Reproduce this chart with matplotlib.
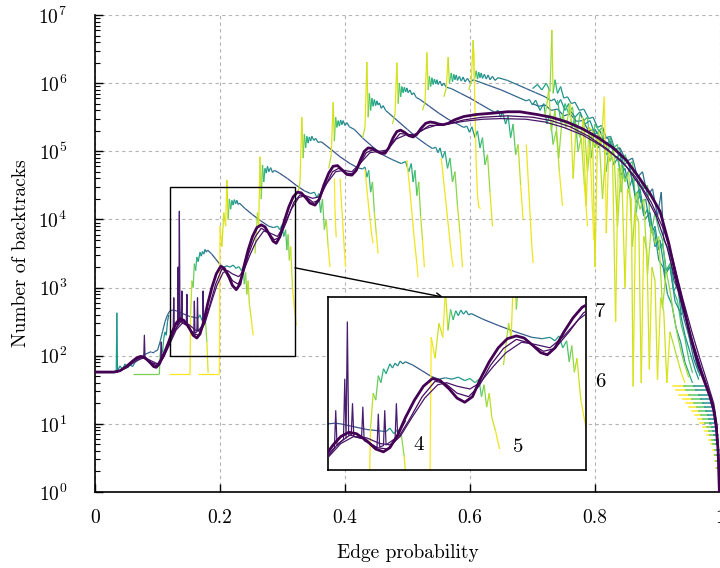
import numpy as np
import matplotlib
matplotlib.use("Agg")
import matplotlib.pyplot as plt
from matplotlib.collections import LineCollection
from matplotlib.patches import Rectangle

plt.rcParams["font.family"] = "serif"
plt.rcParams["font.serif"] = ["cmr10", "DejaVu Serif"]
plt.rcParams["mathtext.fontset"] = "cm"
plt.rcParams["axes.formatter.use_mathtext"] = True

# ---------------------------------------------------------------------------
# Data: edge probability p and log10(number of backtracks)
# ---------------------------------------------------------------------------
mean_p = [0.000, 0.030, 0.040, 0.050, 0.060, 0.067, 0.073, 0.080, 0.088, 0.094, 0.098, 0.103,
          0.110, 0.117, 0.124, 0.130, 0.136, 0.142, 0.150, 0.157, 0.163, 0.168, 0.174, 0.180,
          0.187, 0.194, 0.201, 0.207, 0.214, 0.220, 0.226, 0.232, 0.238, 0.245, 0.252, 0.259,
          0.266, 0.272, 0.279, 0.285, 0.290, 0.296, 0.303, 0.310, 0.317, 0.324, 0.330, 0.337,
          0.344, 0.352, 0.359, 0.366, 0.374, 0.381, 0.388, 0.395, 0.403, 0.411, 0.418, 0.425,
          0.431, 0.437, 0.444, 0.451, 0.458, 0.464, 0.470, 0.477, 0.483, 0.489, 0.495, 0.502,
          0.509, 0.515, 0.522, 0.529, 0.536, 0.543, 0.550, 0.557, 0.565, 0.575, 0.590, 0.610,
          0.637, 0.660, 0.680, 0.707, 0.730, 0.755, 0.780, 0.805, 0.829, 0.850, 0.870, 0.888,
          0.904, 0.918, 0.930, 0.942, 0.955, 0.966, 0.976, 0.984, 0.990, 0.994, 0.997, 0.999]
mean_log = [1.76, 1.76, 1.78, 1.84, 1.92, 1.97, 1.99, 1.97, 1.90, 1.84, 1.83, 1.88,
            2.02, 2.18, 2.36, 2.48, 2.54, 2.52, 2.42, 2.30, 2.26, 2.32, 2.50, 2.75,
            3.00, 3.20, 3.31, 3.28, 3.16, 3.03, 2.97, 3.05, 3.30, 3.55, 3.75, 3.88,
            3.92, 3.89, 3.78, 3.68, 3.65, 3.75, 3.98, 4.18, 4.33, 4.40, 4.39, 4.32,
            4.24, 4.21, 4.30, 4.50, 4.68, 4.78, 4.79, 4.73, 4.66, 4.65, 4.72, 4.88,
            5.00, 5.05, 5.04, 5.00, 4.97, 4.97, 5.05, 5.20, 5.29, 5.31, 5.28, 5.23,
            5.21, 5.25, 5.34, 5.41, 5.43, 5.42, 5.40, 5.39, 5.41, 5.46, 5.51, 5.54,
            5.56, 5.58, 5.58, 5.54, 5.50, 5.43, 5.33, 5.20, 5.05, 4.87, 4.62, 4.38,
            4.12, 3.65, 3.15, 2.70, 2.20, 1.85, 1.60, 1.40, 1.20, 0.95, 0.60, 0.00]

thin1_p = [0.000, 0.035, 0.050, 0.065, 0.078, 0.090, 0.100, 0.110, 0.120, 0.130, 0.140, 0.150,
           0.160, 0.168, 0.176, 0.185, 0.195, 0.205, 0.212, 0.220, 0.230, 0.238, 0.248, 0.258,
           0.270, 0.280, 0.292, 0.302, 0.314, 0.326, 0.336, 0.348, 0.358, 0.370, 0.385, 0.398,
           0.411, 0.424, 0.440, 0.455, 0.468, 0.482, 0.497, 0.512, 0.528, 0.545, 0.565, 0.590,
           0.620, 0.650, 0.690, 0.720, 0.750, 0.780, 0.810, 0.840, 0.865, 0.890, 0.910, 0.925,
           0.940, 0.955, 0.968, 0.980, 0.990, 0.995, 0.998, 0.999]
thin1_log = [1.76, 1.76, 1.82, 1.92, 1.97, 1.90, 1.87, 1.98, 2.18, 2.38, 2.48, 2.46,
             2.38, 2.36, 2.48, 2.75, 3.03, 3.22, 3.25, 3.20, 3.16, 3.25, 3.48, 3.68,
             3.83, 3.80, 3.75, 3.90, 4.15, 4.32, 4.35, 4.31, 4.33, 4.52, 4.70, 4.72,
             4.70, 4.82, 4.98, 5.00, 5.02, 5.18, 5.24, 5.25, 5.33, 5.38, 5.40, 5.44,
             5.47, 5.48, 5.47, 5.43, 5.35, 5.24, 5.08, 4.88, 4.62, 4.25, 3.85, 3.40,
             2.85, 2.35, 1.95, 1.60, 1.30, 1.00, 0.50, 0.00]

thin2_p = [0.000, 0.035, 0.050, 0.063, 0.075, 0.088, 0.098, 0.108, 0.118, 0.128, 0.137, 0.147,
           0.158, 0.166, 0.174, 0.183, 0.193, 0.203, 0.211, 0.220, 0.229, 0.237, 0.246, 0.256,
           0.266, 0.276, 0.287, 0.296, 0.307, 0.318, 0.328, 0.338, 0.349, 0.358, 0.368, 0.380,
           0.390, 0.402, 0.412, 0.422, 0.434, 0.444, 0.456, 0.466, 0.478, 0.488, 0.500, 0.510,
           0.522, 0.535, 0.550, 0.565, 0.590, 0.620, 0.660, 0.700, 0.730, 0.760, 0.790, 0.820,
           0.850, 0.875, 0.898, 0.915, 0.930, 0.945, 0.960, 0.972, 0.982, 0.990, 0.995, 0.998,
           0.999]
thin2_log = [1.76, 1.76, 1.83, 1.93, 1.98, 1.91, 1.85, 1.95, 2.15, 2.38, 2.50, 2.45,
             2.32, 2.30, 2.45, 2.72, 3.05, 3.27, 3.24, 3.10, 3.05, 3.20, 3.50, 3.74,
             3.87, 3.82, 3.70, 3.74, 3.98, 4.25, 4.36, 4.33, 4.25, 4.28, 4.48, 4.70,
             4.75, 4.68, 4.67, 4.78, 4.98, 5.02, 4.98, 5.00, 5.15, 5.26, 5.25, 5.23,
             5.30, 5.38, 5.38, 5.40, 5.46, 5.50, 5.52, 5.50, 5.45, 5.36, 5.22, 5.03,
             4.78, 4.45, 4.05, 3.60, 3.05, 2.55, 2.10, 1.75, 1.48, 1.25, 0.95, 0.45,
             0.00]

# spiky run of the small-graph curve around p = 0.1 .. 0.18
spikes = [(0.070, 1.98), (0.078, 1.97), (0.079, 2.30), (0.080, 1.97), (0.100, 1.88),
          (0.105, 1.95), (0.106, 2.20), (0.107, 1.98), (0.118, 2.18), (0.125, 2.32),
          (0.126, 2.85), (0.127, 2.35), (0.132, 2.44), (0.133, 3.30), (0.134, 2.46),
          (0.135, 4.12), (0.136, 2.50), (0.138, 2.50), (0.139, 2.95), (0.140, 2.48),
          (0.146, 2.45), (0.147, 2.90), (0.148, 2.42), (0.158, 2.32), (0.159, 2.80),
          (0.160, 2.33), (0.163, 2.35), (0.164, 2.85), (0.165, 2.36), (0.172, 2.45),
          (0.173, 2.95), (0.174, 2.50), (0.180, 2.70)]

# coloured runs: (p, log10 backtracks, colour value along the run)
tooth_a = [(0.000, 1.76, 0.55), (0.034, 1.76, 0.55), (0.035, 2.63, 0.55), (0.036, 1.78, 0.5),
           (0.040, 1.85, 0.5), (0.044, 1.80, 0.5), (0.048, 1.88, 0.5), (0.052, 1.82, 0.45),
           (0.056, 1.87, 0.45), (0.060, 1.84, 0.45), (0.064, 1.90, 0.4), (0.068, 1.93, 0.4),
           (0.072, 1.96, 0.35), (0.076, 2.00, 0.35), (0.080, 2.02, 0.35), (0.085, 2.04, 0.3),
           (0.090, 2.06, 0.3), (0.095, 2.06, 0.3), (0.100, 2.08, 0.35), (0.104, 2.20, 0.4),
           (0.108, 2.35, 0.4), (0.112, 2.50, 0.35), (0.116, 2.60, 0.3), (0.120, 2.66, 0.28),
           (0.125, 2.67, 0.25), (0.130, 2.66, 0.25), (0.140, 2.62, 0.25), (0.150, 2.58, 0.25),
           (0.160, 2.56, 0.3), (0.165, 2.55, 0.45), (0.168, 2.60, 0.55), (0.171, 2.52, 0.6),
           (0.174, 2.58, 0.65), (0.177, 2.48, 0.75), (0.179, 2.20, 0.9), (0.181, 1.75, 1.0)]
tooth_b = [(0.060, 1.73, 0.8), (0.103, 1.73, 0.8), (0.104, 2.00, 0.75), (0.106, 2.12, 0.7),
           (0.108, 2.05, 0.65), (0.110, 2.25, 0.6), (0.112, 2.35, 0.55), (0.114, 2.30, 0.5),
           (0.116, 2.50, 0.45), (0.118, 2.60, 0.4)]
tooth_c = [(0.118, 1.73, 1.0), (0.152, 1.73, 1.0), (0.153, 2.60, 0.95), (0.155, 3.10, 0.85),
           (0.157, 3.00, 0.8), (0.159, 3.35, 0.75), (0.161, 3.25, 0.7), (0.163, 3.45, 0.65),
           (0.165, 3.38, 0.6), (0.168, 3.52, 0.55), (0.170, 3.46, 0.52), (0.172, 3.53, 0.5),
           (0.174, 3.49, 0.48), (0.176, 3.56, 0.45), (0.178, 3.52, 0.4), (0.180, 3.55, 0.35),
           (0.186, 3.50, 0.3), (0.193, 3.42, 0.25), (0.200, 3.34, 0.25),
           (0.206, 3.30, 0.35), (0.211, 3.32, 0.45), (0.216, 3.30, 0.5), (0.221, 3.33, 0.5),
           (0.226, 3.28, 0.55), (0.230, 3.31, 0.6), (0.234, 3.25, 0.65), (0.237, 3.30, 0.7),
           (0.239, 3.05, 0.75), (0.241, 3.22, 0.8), (0.243, 2.90, 0.85), (0.245, 3.10, 0.9),
           (0.247, 2.75, 0.9), (0.250, 2.55, 0.95), (0.253, 2.30, 1.0)]
tooth_d = [(0.165, 1.73, 1.0), (0.199, 1.73, 1.0), (0.200, 3.90, 1.0), (0.203, 3.60, 0.95),
           (0.206, 4.10, 0.9), (0.209, 3.90, 0.95), (0.211, 4.58, 1.0), (0.213, 4.00, 0.85),
           (0.215, 4.30, 0.75), (0.217, 4.15, 0.7), (0.219, 4.28, 0.6), (0.221, 4.21, 0.58),
           (0.223, 4.29, 0.55), (0.225, 4.23, 0.52), (0.227, 4.28, 0.5), (0.229, 4.22, 0.45),
           (0.231, 4.24, 0.4), (0.240, 4.16, 0.3), (0.252, 4.07, 0.25),
           (0.265, 3.98, 0.25), (0.278, 3.90, 0.3), (0.286, 3.88, 0.45), (0.292, 3.90, 0.5),
           (0.296, 3.85, 0.55), (0.299, 3.92, 0.6), (0.302, 3.75, 0.65), (0.305, 3.85, 0.7),
           (0.307, 3.55, 0.75), (0.309, 3.78, 0.8), (0.311, 3.40, 0.85), (0.313, 3.60, 0.9),
           (0.316, 3.00, 0.95), (0.319, 2.70, 1.0), (0.322, 2.45, 1.0)]
tooth_e = [(0.256, 3.50, 0.9), (0.260, 4.10, 0.85), (0.262, 3.90, 0.9), (0.264, 4.92, 1.0),
           (0.266, 4.30, 0.85), (0.268, 4.80, 0.75), (0.270, 4.55, 0.7), (0.272, 4.75, 0.6),
           (0.274, 4.68, 0.55), (0.276, 4.78, 0.52), (0.278, 4.70, 0.5), (0.281, 4.76, 0.45),
           (0.284, 4.69, 0.42), (0.287, 4.72, 0.4), (0.295, 4.68, 0.3), (0.308, 4.60, 0.25),
           (0.322, 4.50, 0.22), (0.335, 4.42, 0.25),
           (0.345, 4.38, 0.4), (0.351, 4.40, 0.5), (0.355, 4.32, 0.6), (0.358, 4.38, 0.65),
           (0.361, 4.10, 0.7), (0.364, 4.30, 0.75), (0.367, 3.85, 0.8), (0.370, 4.00, 0.85),
           (0.373, 3.60, 0.95), (0.376, 3.30, 1.0)]
tooth_f = [(0.325, 4.40, 0.9), (0.328, 4.55, 0.9), (0.331, 5.50, 1.0), (0.333, 4.90, 0.85),
           (0.335, 5.25, 0.75), (0.337, 5.05, 0.7), (0.339, 5.22, 0.65), (0.341, 5.12, 0.6),
           (0.343, 5.21, 0.55), (0.345, 5.15, 0.52), (0.347, 5.22, 0.5), (0.350, 5.16, 0.48),
           (0.353, 5.19, 0.45), (0.357, 5.13, 0.42), (0.362, 5.14, 0.35), (0.376, 5.04, 0.28),
           (0.392, 4.92, 0.25), (0.408, 4.82, 0.25), (0.420, 4.76, 0.3), (0.428, 4.74, 0.45),
           (0.432, 4.77, 0.5), (0.435, 4.62, 0.6), (0.438, 4.72, 0.65), (0.441, 4.40, 0.7),
           (0.444, 4.55, 0.75), (0.447, 4.10, 0.85), (0.450, 3.80, 0.95), (0.453, 3.50, 1.0)]
tooth_g = [(0.374, 4.75, 0.9), (0.378, 4.95, 0.9), (0.381, 5.72, 1.0), (0.383, 5.15, 0.85),
           (0.385, 5.50, 0.75), (0.387, 5.35, 0.7), (0.389, 5.45, 0.65), (0.391, 5.37, 0.6),
           (0.393, 5.46, 0.55), (0.395, 5.39, 0.52), (0.397, 5.45, 0.5), (0.400, 5.38, 0.48),
           (0.403, 5.42, 0.45), (0.407, 5.36, 0.42), (0.415, 5.32, 0.35), (0.430, 5.18, 0.28),
           (0.445, 5.06, 0.25), (0.460, 4.95, 0.25), (0.475, 4.88, 0.3), (0.490, 4.82, 0.45),
           (0.497, 4.85, 0.5), (0.502, 4.70, 0.55), (0.506, 4.82, 0.6), (0.509, 4.55, 0.65),
           (0.512, 4.72, 0.7), (0.515, 4.35, 0.75), (0.518, 4.55, 0.8), (0.521, 4.05, 0.85),
           (0.524, 3.70, 0.95), (0.527, 3.30, 1.0)]
tooth_h = [(0.428, 5.20, 0.9), (0.432, 5.35, 0.9), (0.435, 6.31, 1.0), (0.437, 5.50, 0.85),
           (0.439, 5.85, 0.75), (0.441, 5.60, 0.7), (0.443, 5.78, 0.65), (0.445, 5.66, 0.6),
           (0.447, 5.76, 0.58), (0.449, 5.67, 0.55), (0.451, 5.74, 0.52), (0.453, 5.68, 0.5),
           (0.455, 5.71, 0.5), (0.458, 5.63, 0.48), (0.461, 5.67, 0.45), (0.465, 5.60, 0.42),
           (0.470, 5.56, 0.35), (0.485, 5.44, 0.28), (0.500, 5.32, 0.25), (0.515, 5.20, 0.25),
           (0.530, 5.10, 0.3), (0.540, 5.04, 0.4), (0.545, 5.06, 0.45), (0.549, 4.98, 0.5),
           (0.552, 5.05, 0.5), (0.556, 4.90, 0.55), (0.560, 5.00, 0.6), (0.564, 4.75, 0.65),
           (0.568, 4.90, 0.7), (0.572, 4.55, 0.75), (0.576, 4.70, 0.8), (0.580, 4.20, 0.85),
           (0.584, 3.80, 0.95), (0.588, 3.30, 1.0)]
tooth_i = [(0.476, 5.40, 0.9), (0.480, 5.55, 0.9), (0.483, 6.30, 1.0), (0.485, 5.70, 0.85),
           (0.487, 6.00, 0.75), (0.489, 5.80, 0.7), (0.491, 5.95, 0.65), (0.493, 5.86, 0.6),
           (0.495, 5.94, 0.58), (0.497, 5.87, 0.55), (0.499, 5.93, 0.52), (0.501, 5.86, 0.5),
           (0.504, 5.90, 0.5), (0.507, 5.83, 0.48), (0.510, 5.86, 0.45), (0.514, 5.79, 0.42),
           (0.520, 5.76, 0.35), (0.535, 5.66, 0.28), (0.550, 5.56, 0.25), (0.565, 5.47, 0.25),
           (0.580, 5.40, 0.3), (0.590, 5.35, 0.4), (0.595, 5.37, 0.45), (0.599, 5.28, 0.5),
           (0.603, 5.36, 0.5), (0.608, 5.20, 0.55), (0.612, 5.30, 0.6), (0.616, 5.05, 0.65),
           (0.620, 5.20, 0.7), (0.624, 4.80, 0.75), (0.628, 4.95, 0.8), (0.632, 4.40, 0.9),
           (0.636, 3.90, 1.0)]
tooth_j = [(0.524, 5.60, 0.9), (0.528, 5.72, 0.9), (0.531, 6.45, 1.0), (0.533, 5.90, 0.85),
           (0.535, 6.10, 0.75), (0.537, 5.95, 0.7), (0.539, 6.08, 0.65), (0.541, 5.98, 0.6),
           (0.543, 6.06, 0.58), (0.545, 5.99, 0.55), (0.547, 6.05, 0.52), (0.549, 5.98, 0.5),
           (0.552, 6.03, 0.5), (0.555, 5.96, 0.48), (0.558, 6.00, 0.45), (0.562, 5.94, 0.42),
           (0.570, 5.92, 0.35), (0.585, 5.85, 0.3), (0.600, 5.78, 0.25), (0.615, 5.70, 0.25),
           (0.630, 5.62, 0.3), (0.640, 5.57, 0.4), (0.645, 5.60, 0.45), (0.649, 5.50, 0.5),
           (0.652, 5.58, 0.5), (0.657, 5.40, 0.55), (0.661, 5.52, 0.6), (0.665, 5.20, 0.65),
           (0.669, 5.40, 0.7), (0.673, 4.95, 0.8), (0.677, 5.10, 0.85), (0.681, 4.50, 0.95),
           (0.685, 4.00, 1.0)]
tooth_k = [(0.558, 5.80, 0.9), (0.562, 5.92, 0.9), (0.565, 6.38, 1.0), (0.567, 6.00, 0.8),
           (0.570, 6.15, 0.7), (0.572, 6.02, 0.65), (0.574, 6.13, 0.6), (0.576, 6.05, 0.58),
           (0.578, 6.12, 0.55), (0.580, 6.04, 0.52), (0.583, 6.10, 0.5), (0.586, 6.03, 0.5),
           (0.589, 6.09, 0.48), (0.592, 6.02, 0.45), (0.596, 6.07, 0.45), (0.600, 6.01, 0.42),
           (0.605, 6.05, 0.4), (0.620, 6.00, 0.35), (0.635, 5.95, 0.3), (0.650, 5.90, 0.28),
           (0.665, 5.84, 0.3), (0.680, 5.78, 0.35), (0.690, 5.74, 0.42), (0.695, 5.76, 0.45),
           (0.700, 5.68, 0.5), (0.705, 5.75, 0.5), (0.712, 5.60, 0.55), (0.718, 5.70, 0.6),
           (0.723, 5.40, 0.65), (0.728, 5.55, 0.7), (0.733, 5.10, 0.8), (0.738, 5.30, 0.85),
           (0.743, 4.70, 0.95), (0.748, 4.20, 1.0)]
tooth_l = [(0.598, 5.90, 0.9), (0.602, 6.02, 0.9), (0.605, 6.63, 1.0), (0.607, 6.05, 0.8),
           (0.610, 6.18, 0.7), (0.612, 6.06, 0.65), (0.614, 6.16, 0.6), (0.616, 6.08, 0.58),
           (0.618, 6.15, 0.55), (0.620, 6.07, 0.52), (0.623, 6.13, 0.5), (0.626, 6.06, 0.5),
           (0.629, 6.12, 0.48), (0.632, 6.05, 0.45), (0.636, 6.10, 0.45), (0.640, 6.04, 0.45),
           (0.645, 6.08, 0.45), (0.660, 6.04, 0.4), (0.675, 5.98, 0.35), (0.690, 5.92, 0.3),
           (0.705, 5.86, 0.3), (0.720, 5.80, 0.35), (0.730, 5.74, 0.42), (0.735, 5.77, 0.45),
           (0.740, 5.68, 0.5), (0.745, 5.76, 0.5), (0.752, 5.60, 0.55), (0.758, 5.70, 0.6),
           (0.763, 5.35, 0.65), (0.768, 5.50, 0.7), (0.773, 5.00, 0.8), (0.778, 5.20, 0.85),
           (0.783, 4.50, 0.95), (0.788, 3.90, 1.0)]
tooth_m = [(0.700, 5.92, 0.55), (0.708, 5.98, 0.5), (0.715, 5.90, 0.55), (0.722, 6.00, 0.6),
           (0.728, 5.88, 0.7), (0.731, 6.78, 1.0), (0.733, 5.85, 0.8), (0.736, 6.05, 0.7),
           (0.740, 5.85, 0.6), (0.745, 5.95, 0.55), (0.750, 5.78, 0.5), (0.756, 5.80, 0.5),
           (0.762, 5.70, 0.5), (0.768, 5.72, 0.45), (0.775, 5.60, 0.45), (0.782, 5.62, 0.5),
           (0.790, 5.48, 0.5), (0.797, 5.50, 0.45), (0.804, 5.35, 0.5), (0.811, 5.38, 0.45),
           (0.818, 5.20, 0.5), (0.825, 5.22, 0.45), (0.832, 5.02, 0.5), (0.839, 5.05, 0.55),
           (0.846, 4.80, 0.5), (0.853, 4.85, 0.45), (0.860, 4.55, 0.5), (0.867, 4.60, 0.55),
           (0.874, 4.25, 0.5), (0.881, 4.30, 0.45), (0.888, 3.90, 0.5), (0.895, 3.85, 0.55),
           (0.902, 3.40, 0.5), (0.909, 3.30, 0.5), (0.916, 2.90, 0.5), (0.923, 2.75, 0.55),
           (0.930, 2.40, 0.5), (0.937, 2.20, 0.5), (0.944, 1.90, 0.55), (0.950, 1.75, 0.6),
           (0.956, 1.60, 0.65)]
bundle_1 = [(0.700, 5.70, 0.35), (0.710, 5.66, 0.4), (0.720, 5.68, 0.35), (0.730, 5.60, 0.4),
            (0.740, 5.62, 0.35), (0.750, 5.52, 0.4), (0.760, 5.55, 0.35), (0.770, 5.44, 0.4),
            (0.780, 5.45, 0.35), (0.790, 5.30, 0.4), (0.800, 5.32, 0.35), (0.810, 5.18, 0.4),
            (0.820, 5.20, 0.35), (0.830, 5.02, 0.4), (0.840, 5.05, 0.35), (0.850, 4.85, 0.4),
            (0.860, 4.90, 0.35), (0.868, 4.62, 0.4), (0.876, 4.70, 0.35), (0.884, 4.35, 0.4),
            (0.892, 4.45, 0.35), (0.900, 4.05, 0.4), (0.906, 4.40, 0.3), (0.910, 3.70, 0.4),
            (0.918, 3.55, 0.35), (0.926, 3.10, 0.4), (0.934, 2.95, 0.35), (0.942, 2.55, 0.4),
            (0.950, 2.30, 0.35), (0.958, 1.95, 0.4), (0.966, 1.75, 0.35)]
bundle_2 = [(0.740, 5.75, 0.65), (0.746, 5.40, 0.7), (0.752, 5.70, 0.65), (0.758, 5.55, 0.7),
            (0.764, 5.65, 0.75), (0.770, 5.20, 0.8), (0.776, 5.55, 0.7), (0.782, 5.45, 0.65),
            (0.788, 5.50, 0.7), (0.794, 4.90, 0.8), (0.800, 5.40, 0.7), (0.806, 5.30, 0.65),
            (0.812, 5.35, 0.7), (0.818, 4.70, 0.8), (0.824, 5.20, 0.7), (0.830, 5.05, 0.65),
            (0.836, 5.10, 0.7), (0.842, 4.40, 0.8), (0.848, 4.95, 0.7), (0.854, 4.80, 0.65),
            (0.860, 4.85, 0.7), (0.866, 4.10, 0.8), (0.872, 4.60, 0.7), (0.878, 4.45, 0.65),
            (0.884, 4.50, 0.7), (0.890, 3.80, 0.8), (0.896, 4.10, 0.7), (0.902, 3.85, 0.65),
            (0.908, 3.70, 0.7), (0.914, 3.20, 0.8), (0.920, 3.35, 0.7), (0.926, 2.95, 0.65),
            (0.932, 2.80, 0.7), (0.938, 2.45, 0.75), (0.944, 2.25, 0.7), (0.950, 1.95, 0.7),
            (0.956, 1.75, 0.75)]
bundle_3 = [(0.780, 5.50, 0.9), (0.786, 4.20, 1.0), (0.790, 5.35, 0.9), (0.796, 5.30, 0.85),
            (0.800, 3.30, 1.0), (0.804, 5.20, 0.9), (0.810, 5.10, 0.85), (0.815, 5.80, 1.0),
            (0.818, 3.80, 1.0), (0.822, 5.00, 0.9), (0.828, 4.90, 0.85), (0.833, 2.50, 1.0),
            (0.837, 4.75, 0.9), (0.843, 4.60, 0.85), (0.848, 3.00, 1.0), (0.852, 4.45, 0.9),
            (0.858, 4.30, 0.85), (0.861, 1.55, 1.0), (0.865, 4.10, 0.9), (0.870, 3.95, 0.85),
            (0.874, 1.60, 1.0), (0.878, 3.75, 0.9), (0.883, 3.55, 0.85), (0.887, 1.80, 1.0),
            (0.891, 3.30, 0.9), (0.896, 3.10, 0.85), (0.900, 1.65, 1.0), (0.905, 2.85, 0.9),
            (0.910, 2.65, 0.85), (0.915, 1.60, 1.0), (0.920, 2.35, 0.9), (0.926, 2.15, 0.85),
            (0.932, 1.95, 0.9), (0.938, 1.75, 0.95), (0.944, 1.60, 1.0)]
bundle_4 = [(0.760, 5.60, 0.5), (0.768, 5.50, 0.55), (0.776, 5.58, 0.5), (0.784, 5.40, 0.5),
            (0.792, 5.45, 0.55), (0.800, 5.25, 0.5), (0.808, 5.30, 0.45), (0.816, 5.10, 0.5),
            (0.824, 5.15, 0.55), (0.832, 4.90, 0.5), (0.840, 4.95, 0.5), (0.848, 4.60, 0.55),
            (0.856, 4.75, 0.5), (0.864, 4.35, 0.5), (0.872, 4.45, 0.55), (0.880, 4.00, 0.5),
            (0.888, 4.10, 0.45), (0.896, 3.60, 0.5), (0.904, 3.70, 0.55), (0.912, 3.20, 0.5),
            (0.920, 3.30, 0.5), (0.928, 2.80, 0.55), (0.936, 2.65, 0.5), (0.944, 2.30, 0.5),
            (0.952, 2.05, 0.55), (0.960, 1.80, 0.5), (0.966, 1.65, 0.55)]
bundle_5 = [(0.720, 5.50, 0.85), (0.726, 5.90, 0.9), (0.730, 5.30, 0.85), (0.736, 5.60, 0.8),
            (0.742, 4.90, 0.9), (0.748, 5.55, 0.8), (0.754, 5.35, 0.85), (0.760, 5.70, 0.9),
            (0.765, 4.60, 1.0), (0.770, 5.40, 0.85), (0.776, 5.20, 0.8), (0.782, 5.45, 0.85),
            (0.788, 4.70, 0.9), (0.794, 5.25, 0.8), (0.800, 5.05, 0.85), (0.806, 5.30, 0.8),
            (0.812, 4.30, 0.95), (0.818, 5.10, 0.8), (0.824, 4.85, 0.85), (0.830, 5.05, 0.8),
            (0.836, 3.90, 0.95), (0.842, 4.80, 0.8), (0.848, 4.55, 0.85), (0.854, 4.70, 0.8),
            (0.860, 3.60, 0.95), (0.866, 4.40, 0.8), (0.872, 4.15, 0.85), (0.878, 4.30, 0.8),
            (0.884, 3.20, 0.95), (0.890, 3.90, 0.8), (0.896, 3.65, 0.85), (0.902, 3.75, 0.8),
            (0.908, 2.70, 0.95), (0.914, 3.25, 0.8), (0.920, 2.95, 0.85), (0.926, 2.60, 0.8),
            (0.932, 2.30, 0.85), (0.938, 2.05, 0.8), (0.944, 1.85, 0.85), (0.950, 1.68, 0.9)]
bundle_6 = [(0.800, 5.15, 0.5), (0.806, 5.05, 0.55), (0.812, 5.20, 0.5), (0.818, 4.95, 0.55),
            (0.824, 5.00, 0.5), (0.830, 4.80, 0.55), (0.836, 4.90, 0.5), (0.842, 4.65, 0.55),
            (0.848, 4.75, 0.5), (0.854, 4.45, 0.55), (0.860, 4.60, 0.5), (0.866, 4.25, 0.55),
            (0.872, 4.35, 0.5), (0.878, 4.05, 0.55), (0.884, 4.15, 0.5), (0.890, 3.80, 0.55),
            (0.896, 3.90, 0.5), (0.902, 3.55, 0.55), (0.908, 3.65, 0.5), (0.914, 3.25, 0.55),
            (0.920, 3.35, 0.5), (0.926, 2.95, 0.55), (0.932, 3.05, 0.5), (0.938, 2.60, 0.55),
            (0.944, 2.70, 0.5), (0.950, 2.30, 0.55), (0.956, 2.15, 0.5), (0.962, 1.90, 0.55),
            (0.968, 1.70, 0.6)]

# long yellow fall-offs after a run collapses
fall_1 = [(0.383, 4.60, 1.0), (0.384, 4.14, 1.0), (0.385, 3.90, 0.95), (0.386, 3.74, 1.0)]
fall_2 = [(0.392, 4.60, 1.0), (0.396, 4.00, 0.95), (0.399, 3.55, 1.0), (0.401, 3.30, 1.0)]
fall_3 = [(0.432, 4.73, 1.0), (0.436, 4.35, 0.95), (0.440, 4.00, 1.0), (0.443, 3.75, 0.95),
          (0.445, 3.65, 1.0)]
fall_4 = [(0.499, 4.87, 1.0), (0.503, 4.50, 0.95), (0.507, 4.10, 1.0), (0.511, 3.70, 0.95),
          (0.515, 3.35, 1.0), (0.517, 3.15, 1.0)]
fall_5 = [(0.554, 4.90, 1.0), (0.558, 4.55, 0.95), (0.562, 4.20, 1.0), (0.566, 3.85, 0.95),
          (0.570, 3.50, 1.0), (0.573, 3.30, 1.0)]
fall_6 = [(0.606, 6.50, 1.0), (0.608, 5.60, 0.95), (0.610, 4.80, 1.0), (0.612, 4.35, 0.95),
          (0.614, 4.18, 1.0), (0.617, 4.16, 1.0)]
fall_7 = [(0.690, 5.10, 1.0), (0.693, 4.60, 0.95), (0.696, 4.10, 1.0), (0.699, 3.60, 0.95),
          (0.701, 3.36, 1.0)]
fall_8 = [(0.792, 5.06, 1.0), (0.794, 4.60, 0.95), (0.796, 4.10, 1.0), (0.798, 3.70, 1.0)]

runs = [tooth_a, tooth_b, tooth_c, tooth_d, tooth_e, tooth_f, tooth_g, tooth_h,
        tooth_i, tooth_j, tooth_k, tooth_l, tooth_m, bundle_1, bundle_6, bundle_2,
        bundle_4, bundle_5, bundle_3, fall_1, fall_2, fall_3, fall_4, fall_5, fall_6,
        fall_7, fall_8]

# final staircase near p = 1
comb_log = [1.55, 1.49, 1.43, 1.37, 1.31, 1.25, 1.19, 1.13, 1.07, 1.01,
            0.95, 0.89, 0.83, 0.77, 0.70, 0.62, 0.54, 0.45, 0.35]
comb_from = [0.925, 0.930, 0.935, 0.940, 0.945, 0.950, 0.955, 0.960, 0.964, 0.968,
             0.972, 0.976, 0.979, 0.982, 0.985, 0.988, 0.990, 0.992, 0.994]
comb_to = [0.975, 0.978, 0.981, 0.984, 0.986, 0.988, 0.990, 0.991, 0.992, 0.993,
           0.994, 0.995, 0.996, 0.997, 0.997, 0.998, 0.998, 0.999, 0.999]

curve_labels = ["4", "5", "6", "7"]
label_p = [0.517, 0.677, 0.808, 0.808]
label_log = [0.69, 0.66, 1.62, 2.64]

cmap = plt.get_cmap("viridis")


def draw(ax):
    for run in runs:
        arr = np.array(run)
        pts = np.column_stack([arr[:, 0], 10 ** arr[:, 1]])
        segs = np.stack([pts[:-1], pts[1:]], axis=1)
        cval = 0.5 * (arr[:-1, 2] + arr[1:, 2])
        lc = LineCollection(segs, cmap=cmap, norm=plt.Normalize(0, 1), linewidths=0.9,
                            zorder=2)
        lc.set_array(cval)
        ax.add_collection(lc)
    for lv, a, b in zip(comb_log, comb_from, comb_to):
        w = (b - a) / 3.0
        for k, cv in enumerate([1.0, 0.75, 0.5]):
            ax.plot([a + k * w, a + (k + 1) * w], [10 ** lv, 10 ** lv], color=cmap(cv),
                    lw=1.1, zorder=2)
    sp = np.array(spikes)
    ax.plot(sp[:, 0], 10 ** sp[:, 1], color=cmap(0.08), lw=0.9, zorder=3)
    ax.plot(thin1_p, 10 ** np.array(thin1_log), color=cmap(0.06), lw=0.9, zorder=3)
    ax.plot(thin2_p, 10 ** np.array(thin2_log), color=cmap(0.03), lw=0.9, zorder=3)
    ax.plot(mean_p, 10 ** np.array(mean_log), color=cmap(0.0), lw=2.0, zorder=4)


fig = plt.figure(figsize=(7.2, 5.68), dpi=100)
ax = fig.add_axes([95 / 720, 1 - 492 / 568, 625 / 720, 477 / 568])
draw(ax)
ax.set_yscale("log")
ax.set_xlim(0, 1)
ax.set_ylim(1, 1e7)
ax.set_xticks([0, 0.2, 0.4, 0.6, 0.8, 1.0])
ax.set_xticklabels(["0", "0.2", "0.4", "0.6", "0.8", "1"])
ax.grid(True, which="major", color="#b4b4b4", linestyle=(0, (3, 3)), linewidth=0.8)
ax.set_axisbelow(True)
for s in ["top", "right"]:
    ax.spines[s].set_visible(False)
for s in ["left", "bottom"]:
    ax.spines[s].set_linewidth(1.2)
ax.tick_params(which="major", direction="in", length=6, width=1.0, labelsize=14)
ax.tick_params(axis="x", which="major", pad=12.5)
ax.tick_params(axis="y", which="major", pad=20)
ax.tick_params(which="minor", direction="in", length=3.5, width=0.8)
ax.tick_params(axis="x", which="minor", bottom=False)
ax.set_xlabel("Edge probability", fontsize=14, labelpad=12)
ax.set_ylabel("Number of backtracks", fontsize=14, labelpad=6)

ax.add_patch(Rectangle((0.12, 100), 0.20, 3e4 - 100, fill=False, edgecolor="black",
                       lw=1.0, zorder=6))
ax.annotate("", xy=(0.557, 10 ** 2.86), xytext=(0.32, 10 ** 3.29),
            arrowprops=dict(arrowstyle="->", color="black", lw=1.0, shrinkA=0, shrinkB=0),
            annotation_clip=False, zorder=6)

ins = fig.add_axes([328 / 720, 1 - 470 / 568, 258 / 720, 173 / 568])
draw(ins)
ins.set_yscale("log")
ins.set_xlim(0.12, 0.32)
ins.set_ylim(100, 3e4)
ins.set_xticks([])
ins.set_yticks([])
ins.minorticks_off()
for s in ins.spines.values():
    s.set_linewidth(1.2)

# size labels placed in main-axis data coordinates, drawn above the inset
for t, px, ly in zip(curve_labels, label_p, label_log):
    fig.text(px, 10 ** ly, t, fontsize=15, ha="center", va="center",
             transform=ax.transData, zorder=10)

fig.savefig("out.png", dpi=100)
